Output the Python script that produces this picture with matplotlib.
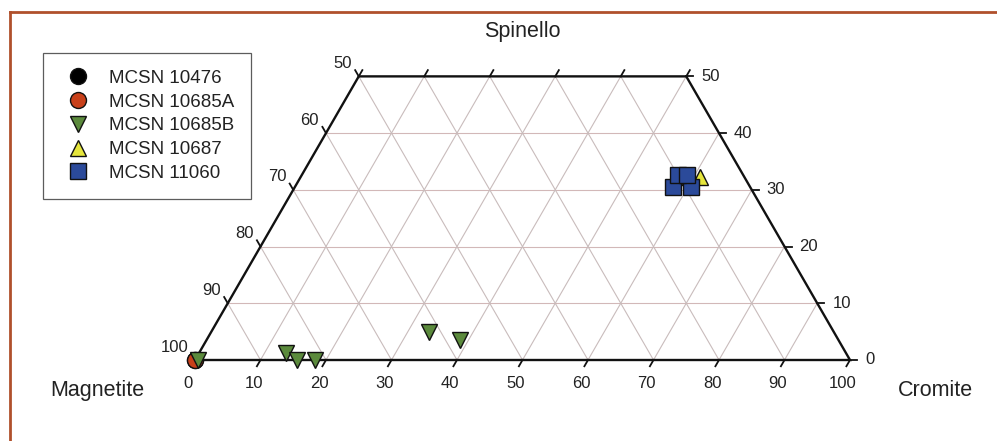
import numpy as np
import matplotlib
matplotlib.use("Agg")
import matplotlib.pyplot as plt
from matplotlib.lines import Line2D

plt.rcParams['font.family'] = ['Liberation Sans', 'DejaVu Sans']

# ternary data: Cromite and Spinello percentages (Magnetite = rest)
labels = ['MCSN 10476', 'MCSN 10685A', 'MCSN 10685B', 'MCSN 10687', 'MCSN 11060']
cromite = [
    [0.0],
    [0.0],
    [0.5, 13.3, 15.5, 18.3, 33.2, 38.7],
    [57.1, 60.9],
    [57.7, 60.5, 57.5, 58.8],
]
spinello = [
    [0.0],
    [0.0],
    [0.0, 1.2, 0.0, 0.0, 4.9, 3.5],
    [32.3, 32.3],
    [30.5, 30.5, 32.6, 32.6],
]
markers = ['o', 'o', 'v', '^', 's']
colors = ['#000000', '#c8401a', '#5b8a3c', '#e6e63c', '#2b4a9a']

bottom_ticks = list(range(0, 101, 10))
left_ticks = list(range(100, 49, -10))
right_ticks = list(range(0, 51, 10))
top_ticks = list(range(0, 51, 10))

h = np.sqrt(3) / 2


def tern(c, s):
    c = np.asarray(c, dtype=float)
    s = np.asarray(s, dtype=float)
    return c + s / 2, s * h


W, H = 997, 441
x0px, y0px, scale = 195, 360, 6.55

fig = plt.figure(figsize=(W / 100, H / 100), dpi=100)
ax = fig.add_axes([0, 0, 1, 1])
ax.set_xlim(-x0px / scale, (W - x0px) / scale)
ax.set_ylim(-(H - y0px) / scale, y0px / scale)
ax.axis('off')

gcol = '#c9bcbc'
# horizontal grid lines (constant Spinello)
for s in range(10, 50, 10):
    xa, ya = tern(0, s)
    xb, yb = tern(100 - s, s)
    ax.plot([xa, xb], [ya, yb], color='#d2b8b8', lw=0.8, zorder=1)
# constant Cromite lines
for c in range(10, 100, 10):
    smax = min(50, 100 - c)
    xa, ya = tern(c, 0)
    xb, yb = tern(c, smax)
    ax.plot([xa, xb], [ya, yb], color=gcol, lw=0.8, zorder=1)
# constant Magnetite lines
for m in range(10, 100, 10):
    smax = min(50, 100 - m)
    xa, ya = tern(100 - m, 0)
    xb, yb = tern(100 - m - smax, smax)
    ax.plot([xa, xb], [ya, yb], color=gcol, lw=0.8, zorder=1)

# outline (trapezoid)
cs = [0, 100, 50, 0, 0]
ss = [0, 0, 50, 50, 0]
ox, oy = tern(cs, ss)
ax.plot(ox, oy, color='#111111', lw=1.7, zorder=2, solid_joinstyle='miter')

L = 1.1
tk = dict(color='#111111', lw=1.3, zorder=2)
pt = 0.72
fs_tick = 12
for c in bottom_ticks:
    x, y = tern(c, 0)
    ax.plot([x, x - 0.5 * L], [y, y - h * L], **tk)
    ax.annotate(str(c), (x, y), xytext=(-7 * pt, -23 * pt), textcoords='offset points',
                ha='center', va='center', fontsize=fs_tick, color='#222222')
for c in top_ticks:
    x, y = tern(c, 50)
    ax.plot([x, x + 0.5 * L], [y, y + h * L], **tk)
for mval in left_ticks:
    s = 100 - mval
    x, y = tern(0, s)
    ax.plot([x, x - 0.5 * L], [y, y + h * L], **tk)
    ax.annotate(str(mval), (x, y), xytext=(-7 * pt, 13 * pt), textcoords='offset points',
                ha='right', va='center', fontsize=fs_tick, color='#222222')
for s in right_ticks:
    x, y = tern(100 - s, s)
    ax.plot([x, x + L], [y, y], **tk)
    ax.annotate(str(s), (x, y), xytext=(15 * pt, 0), textcoords='offset points',
                ha='left', va='center', fontsize=fs_tick, color='#222222')

# data points
handles = []
for lab, c, s, mk, col in zip(labels, cromite, spinello, markers, colors):
    x, y = tern(c, s)
    ax.plot(x, y, linestyle='none', marker=mk, markersize=11.5, markerfacecolor=col,
            markeredgecolor='#111111', markeredgewidth=1.0, zorder=5)
    handles.append(Line2D([], [], linestyle='none', marker=mk, markersize=11.5,
                          markerfacecolor=col, markeredgecolor='#111111',
                          markeredgewidth=1.0, label=lab))

leg = fig.legend(handles=handles, loc='upper left', bbox_to_anchor=(43 / W, 1 - 53 / H),
                 bbox_transform=fig.transFigure, fontsize=13.5, frameon=True,
                 fancybox=False, borderpad=0.9, labelspacing=0.35, handlelength=1.9,
                 handletextpad=0.7, borderaxespad=0)
leg.get_frame().set_edgecolor('#333333')
leg.get_frame().set_linewidth(0.9)
for t in leg.get_texts():
    t.set_color('#222222')

# axis titles
fig.text(522 / W, 1 - 37 / H, 'Spinello', ha='center', va='baseline', fontsize=15.5, color='#222222')
fig.text(97 / W, 1 - 396 / H, 'Magnetite', ha='center', va='baseline', fontsize=15.5, color='#222222')
fig.text(935 / W, 1 - 396 / H, 'Cromite', ha='center', va='baseline', fontsize=15.5, color='#222222')

# outer frame (top and left edges visible)
bcol = '#b0502c'
fig.add_artist(Line2D([10 / W, 1], [1 - 12 / H, 1 - 12 / H], color=bcol, lw=2.0,
                      transform=fig.transFigure))
fig.add_artist(Line2D([10 / W, 10 / W], [1 - 12 / H, 0], color=bcol, lw=2.0,
                      transform=fig.transFigure))

fig.savefig('out.png', dpi=100)
